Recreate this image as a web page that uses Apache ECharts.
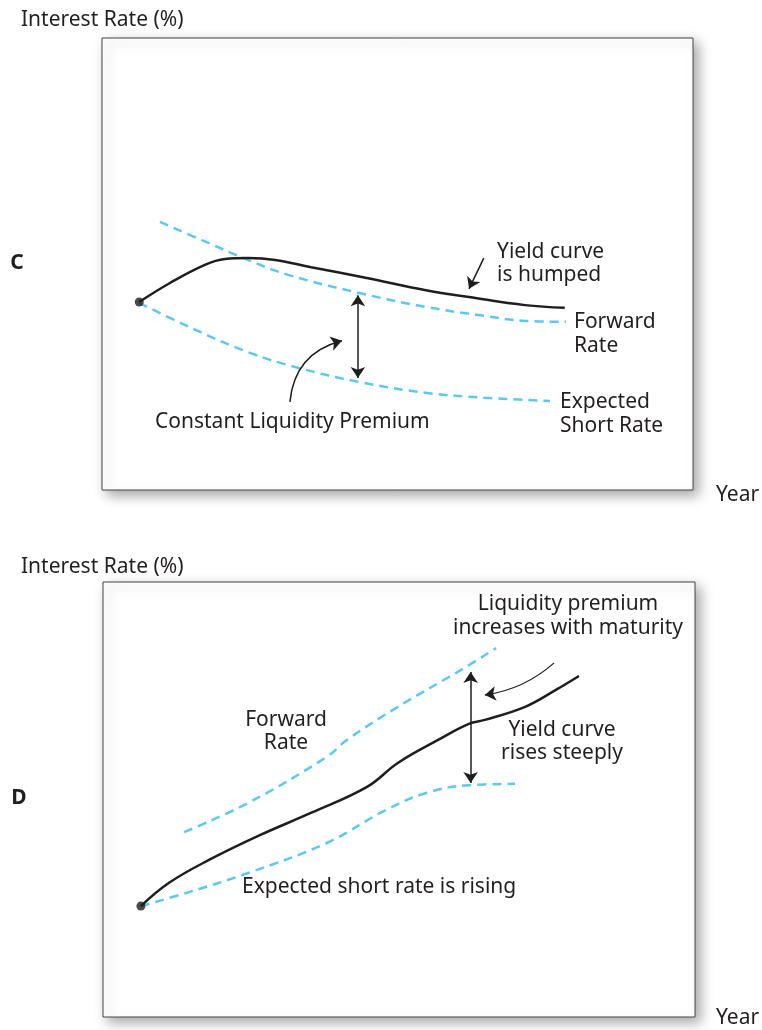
<!DOCTYPE html>
<html>
<head>
<meta charset="utf-8">
<script src="https://cdn.jsdelivr.net/npm/echarts@6/dist/echarts.min.js"></script>
<style>
  html, body { margin: 0; padding: 0; background: #fff; }
  #chart { width: 762px; height: 1030px; }
</style>
</head>
<body>
<div id="chart"></div>
<script>
// panel C: humped yield curve (x = maturity, y = rate, arbitrary units 0-10)
var yieldC = [[0.63, 4.16], [1.15, 4.58], [1.74, 4.98], [2.08, 5.11], [2.47, 5.13], [2.93, 5.09],
  [3.54, 4.93], [4.48, 4.69], [5.48, 4.42], [6.21, 4.27], [7.16, 4.09], [7.83, 4.03]];
var forwardC = [[0.98, 5.93], [1.81, 5.46], [2.47, 5.09], [3.15, 4.76], [4.35, 4.36],
  [5.48, 4.05], [6.48, 3.85], [7.16, 3.74], [7.85, 3.72]];
var expectedC = [[0.63, 4.14], [1.47, 3.61], [2.47, 3.05], [3.33, 2.70], [4.35, 2.39],
  [5.48, 2.15], [6.48, 2.04], [7.58, 1.97]];
var premiumArrowC = [[4.33, 4.31], [4.33, 2.48]];
var premiumPointerC = [[3.18, 1.95], [4.06, 3.30]];
var yieldPointerC = [[6.46, 5.13], [6.21, 4.45]];

// panel D: steeply rising yield curve
var yieldD = [[0.64, 2.55], [1.11, 3.08], [1.79, 3.61], [2.65, 4.18], [3.51, 4.69], [4.46, 5.29],
  [4.98, 5.84], [5.66, 6.37], [6.18, 6.74], [6.45, 6.83], [7.13, 7.13], [7.65, 7.52], [8.04, 7.84]];
var forwardD = [[1.37, 4.25], [2.45, 4.92], [3.78, 5.98], [4.12, 6.37], [4.98, 7.13],
  [6.05, 7.98], [6.64, 8.48]];
var expectedD = [[0.64, 2.55], [1.45, 2.87], [2.45, 3.31], [3.78, 4.00], [4.78, 4.76],
  [5.46, 5.15], [6.18, 5.33], [6.96, 5.36]];
var premiumArrowD = [[6.21, 7.93], [6.21, 5.38]];
var premiumPointerD = [[7.62, 8.14], [6.45, 7.40]];

var BLUE = '#5cc8f0';
var INK = '#1e1e1e';
var FONT = '21px "Noto Sans", sans-serif';

var chartDom = document.getElementById('chart');
var myChart = echarts.init(chartDom);
var option;

function axis(idx) {
  return {
    type: 'value', gridIndex: idx, min: 0, max: 10,
    axisLine: { show: false }, axisTick: { show: false },
    axisLabel: { show: false }, splitLine: { show: false }
  };
}

function dashed(data, idx) {
  return {
    type: 'line', xAxisIndex: idx, yAxisIndex: idx, data: data,
    smooth: 0.4, showSymbol: false, silent: true,
    lineStyle: { color: BLUE, width: 2.5, type: [9, 6] }
  };
}

function solid(data, idx) {
  return {
    type: 'line', xAxisIndex: idx, yAxisIndex: idx, data: data,
    smooth: 0.4, showSymbol: false, silent: true,
    lineStyle: { color: INK, width: 2.5 }
  };
}

// annotation arrows drawn with a lines series so curveness works
function arrow(pts, idx, both, curve, width) {
  return {
    type: 'lines', coordinateSystem: 'cartesian2d', xAxisIndex: idx, yAxisIndex: idx,
    silent: true, z: 5,
    symbol: both ? ['arrow', 'arrow'] : ['none', 'arrow'],
    symbolSize: 11,
    lineStyle: { color: INK, width: width || 1.5, opacity: 1, curveness: curve || 0 },
    data: [{ coords: pts }]
  };
}

function dot(pt, idx) {
  return {
    type: 'scatter', xAxisIndex: idx, yAxisIndex: idx, data: [pt],
    symbolSize: 9, itemStyle: { color: INK }, silent: true, z: 6
  };
}

function text(str, x, y, align, font) {
  return {
    type: 'text', x: x, y: y, silent: true,
    style: { text: str, font: font || FONT, fill: '#231f20', textAlign: align || 'left', textVerticalAlign: 'middle' }
  };
}

var boxStyle = {
  show: true, backgroundColor: '#fff', borderColor: '#444', borderWidth: 1,
  shadowColor: 'rgba(0,0,0,0.35)', shadowBlur: 12, shadowOffsetX: 5, shadowOffsetY: 5
};

option = {
  backgroundColor: '#fff',
  animation: false,
  grid: [
    Object.assign({ left: 102, top: 38, width: 591, height: 452 }, boxStyle),
    Object.assign({ left: 103, top: 582, width: 592, height: 435 }, boxStyle)
  ],
  xAxis: [axis(0), axis(1)],
  yAxis: [axis(0), axis(1)],
  series: [
    dashed(forwardC, 0),
    dashed(expectedC, 0),
    solid(yieldC, 0),
    arrow(premiumArrowC, 0, true, 0, 1.5),
    arrow(premiumPointerC, 0, false, 0.35, 1.5),
    arrow(yieldPointerC, 0, false, 0, 1.5),
    dot(yieldC[0], 0),

    dashed(forwardD, 1),
    dashed(expectedD, 1),
    solid(yieldD, 1),
    arrow(premiumArrowD, 1, true, 0, 1.5),
    arrow(premiumPointerD, 1, false, 0.15, 1.2),
    dot(yieldD[0], 1)
  ],
  graphic: [
    text('Interest Rate (%)', 21, 20),
    text('C', 17, 263, 'center', 'bold 21px "Noto Sans", sans-serif'),
    text('Year', 716, 495),
    text('Yield curve', 497, 252),
    text('is humped', 497, 275),
    text('Forward', 574, 322),
    text('Rate', 574, 346),
    text('Expected', 560, 402),
    text('Short Rate', 560, 426),
    text('Constant Liquidity Premium', 155, 422),

    text('Interest Rate (%)', 21, 567),
    text('D', 19, 798, 'center', 'bold 21px "Noto Sans", sans-serif'),
    text('Year', 716, 1018),
    text('Liquidity premium', 568, 604, 'center'),
    text('increases with maturity', 568, 628, 'center'),
    text('Forward', 286, 720, 'center'),
    text('Rate', 286, 743, 'center'),
    text('Yield curve', 562, 730, 'center'),
    text('rises steeply', 562, 753, 'center'),
    text('Expected short rate is rising', 242, 887)
  ]
};

option && myChart.setOption(option);
</script>
</body>
</html>
